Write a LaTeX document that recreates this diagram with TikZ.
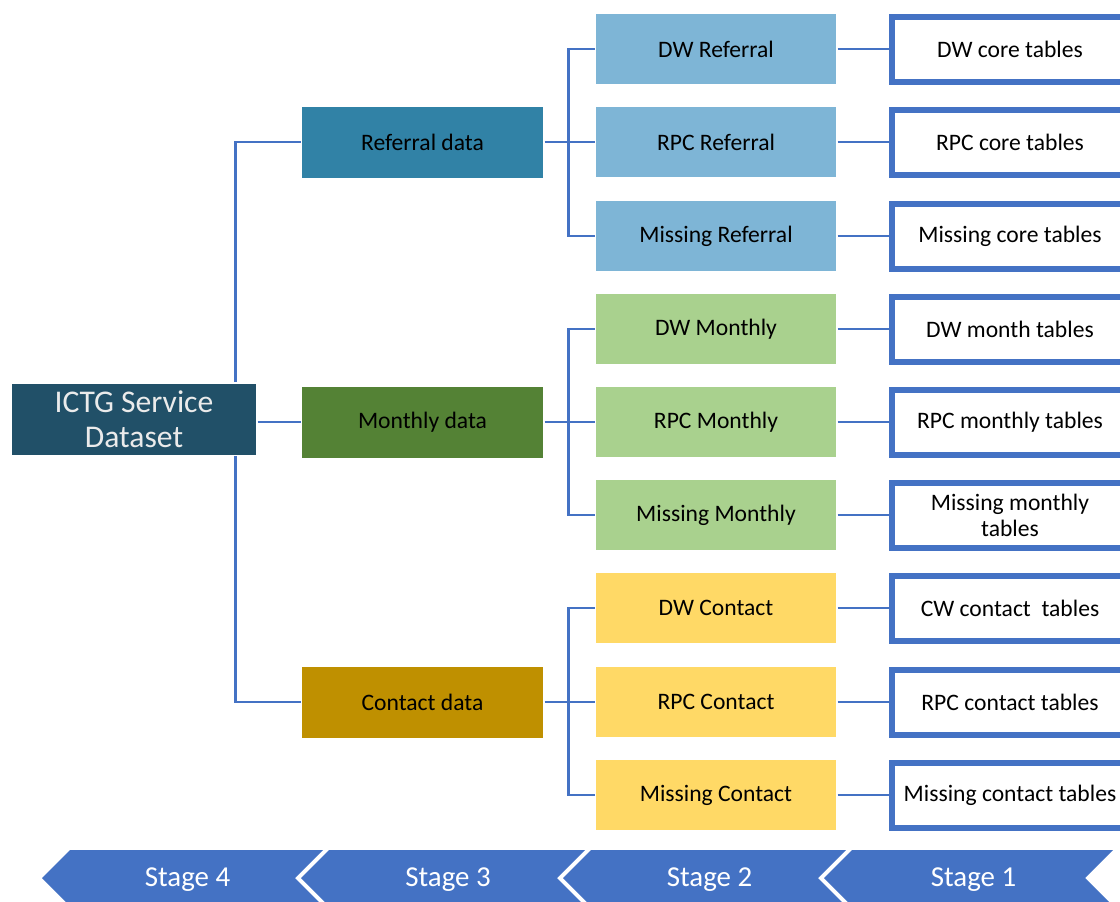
\documentclass[tikz,border=0pt]{standalone}
\usepackage{fontspec}
\setmainfont{Carlito}
\definecolor{rootfill}{HTML}{215068}
\definecolor{reffill}{HTML}{3182A6}
\definecolor{monfill}{HTML}{548235}
\definecolor{confill}{HTML}{BF9000}
\definecolor{reflight}{HTML}{7EB5D6}
\definecolor{monlight}{HTML}{A9D18E}
\definecolor{conlight}{HTML}{FFD966}
\definecolor{linkblue}{HTML}{4472C4}
\begin{document}
\begin{tikzpicture}[x=1pt,y=-1pt,
    link/.style={draw=linkblue,line width=2.5pt},
    basebox/.style={inner sep=0pt,outer sep=1.5pt,align=center,
      font=\fontsize{23.6}{26}\selectfont},
    groupbox/.style={basebox,minimum width=241pt,minimum height=71pt},
    itembox/.style={basebox,minimum width=240pt,minimum height=70pt},
    tablebox/.style={basebox,draw=linkblue,line width=6pt,fill=white,
      minimum width=236pt,minimum height=65pt}]
  \useasboundingbox (0,0) rectangle (1120,902);
  \clip (0,0) rectangle (1120,902);

  % root
  \node[basebox,fill=rootfill,text=white!92!black,minimum width=244pt,minimum height=71pt,
    font=\fontsize{31.6}{35}\selectfont] (root) at (134,419) {ICTG Service\\Dataset};

  % stage 3
  \node[groupbox,fill=reffill] (refdata) at (422.5,142) {Referral data};
  \node[groupbox,fill=monfill] (mondata) at (422.5,422) {Monthly data};
  \node[groupbox,fill=confill] (condata) at (422.5,702) {Contact data};

  % stage 2
  \node[itembox,fill=reflight] (dwref) at (716,49) {DW Referral};
  \node[itembox,fill=reflight] (rpcref) at (716,142) {RPC Referral};
  \node[itembox,fill=reflight] (misref) at (716,236) {Missing Referral};
  \node[itembox,fill=monlight] (dwmon) at (716,329) {DW Monthly};
  \node[itembox,fill=monlight] (rpcmon) at (716,422) {RPC Monthly};
  \node[itembox,fill=monlight] (mismon) at (716,515) {Missing Monthly};
  \node[itembox,fill=conlight] (dwcon) at (716,608) {DW Contact};
  \node[itembox,fill=conlight] (rpccon) at (716,702) {RPC Contact};
  \node[itembox,fill=conlight] (miscon) at (716,795) {Missing Contact};

  % stage 1
  \node[tablebox] (dwcore) at (1010,49) {DW core tables};
  \node[tablebox] (rpccore) at (1010,142) {RPC core tables};
  \node[tablebox] (miscore) at (1010,236) {Missing core tables};
  \node[tablebox] (dwmonth) at (1010,329) {DW month tables};
  \node[tablebox] (rpcmonth) at (1010,422) {RPC monthly tables};
  \node[tablebox] (mismonth) at (1010,515) {Missing monthly\\tables};
  \node[tablebox] (dwcontact) at (1010,608) {CW contact\ \ tables};
  \node[tablebox] (rpccontact) at (1010,702) {RPC contact tables};
  \node[tablebox] (miscontact) at (1010,795) {Missing contact tables};

  % connectors
  \draw[link] (mondata.west -| root.east) -- (mondata.west);
  \draw[link] (refdata.west) -| ([xshift=-22]root.north east);
  \draw[link] (condata.west) -| ([xshift=-22]root.south east);
  \foreach \g/\a/\b/\c in {refdata/dwref/rpcref/misref,
      mondata/dwmon/rpcmon/mismon, condata/dwcon/rpccon/miscon} {
    \draw[link] (\g.east) -- (\b.west);
    \draw[link] (\a.west) -| ([xshift=24]\g.east) |- (\c.west);
  }
  \foreach \s/\t in {dwref/dwcore, rpcref/rpccore, misref/miscore,
      dwmon/dwmonth, rpcmon/rpcmonth, mismon/mismonth,
      dwcon/dwcontact, rpccon/rpccontact, miscon/miscontact}
    \draw[link] (\s.east) -- (\t.west);

  % stage arrows
  \foreach \n/\l/\r in {4/42/295, 3/301/557, 2/563/818, 1/824/1085} {
    \fill[linkblue] (\l,878) -- (\l+28,850) -- (\r+28,850) -- (\r,878)
      -- (\r+28,906) -- (\l+28,906) -- cycle;
    \node[text=white,font=\fontsize{28.9}{32}\selectfont] (stage\n)
      at ({(\l+\r)/2+19},880) {Stage \n};
  }
\end{tikzpicture}
\end{document}
